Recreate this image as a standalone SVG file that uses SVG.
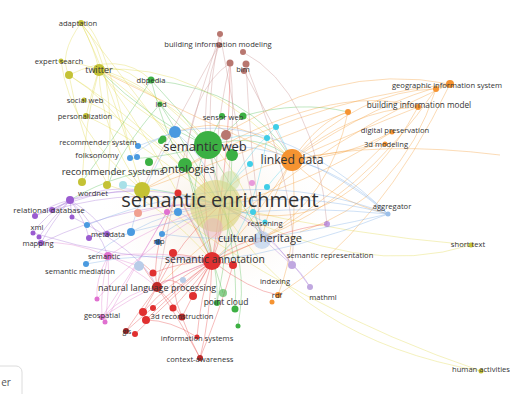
<svg xmlns="http://www.w3.org/2000/svg" width="510" height="394" viewBox="0 0 510 394">
<style>
text{font-family:"Open Sans","Liberation Sans",sans-serif;fill:#333;text-anchor:middle}
.s{font-size:7.6px}
.e path{fill:none;stroke-width:1;stroke-opacity:.38}
.y{stroke:#e2da55}.g{stroke:#5cc05c}.o{stroke:#f5a040}.b{stroke:#c89090}.r{stroke:#e85050}
.p{stroke:#e080d0}.v{stroke:#a878d8}.u{stroke:#80b0e8}.c{stroke:#50d0e8}
.ny{fill:#c4c235}.ng{fill:#3cb043}.no{fill:#f59331}.nb{fill:#b87770}.nr{fill:#e03030}
.np{fill:#e070d0}.nv{fill:#9a5cd0}.nu{fill:#4a9ae0}.nc{fill:#3fcde6}.nl{fill:#b8cce8}
</style>
<defs>
<radialGradient id="haze" cx="0.5" cy="0.5" r="0.5">
<stop offset="0" stop-color="#f6e8d8" stop-opacity=".9"/>
<stop offset="1" stop-color="#ffffff" stop-opacity="0"/>
</radialGradient>
</defs>
<rect width="510" height="394" fill="#fff"/>
<ellipse cx="215" cy="215" rx="120" ry="95" fill="url(#haze)"/>
<g class="e" id="connectors">
<path class="y" d="M81 23 Q95 50 99 70"/>
<path class="y" d="M81 23 Q110 80 142 190"/>
<path class="y" d="M81 23 Q140 100 220 205"/>
<path class="y" d="M81 23 Q58 55 69 75"/>
<path class="y" d="M81 23 Q118 60 108 185"/>
<path class="y" d="M81 23 Q100 20 130 150"/>
<path class="y" d="M61 61 Q85 64 99 70"/>
<path class="y" d="M69 75 Q140 120 220 205"/>
<path class="y" d="M99 70 Q160 110 220 205"/>
<path class="y" d="M99 70 Q150 80 207 146"/>
<path class="y" d="M99 70 Q200 60 292 160"/>
<path class="y" d="M99 70 Q100 130 142 190"/>
<path class="y" d="M84 100 Q150 130 220 205"/>
<path class="y" d="M86 116 Q140 140 220 205"/>
<path class="y" d="M69 75 Q80 140 108 185"/>
<path class="y" d="M99 70 Q85 120 82 182"/>
<path class="y" d="M86 116 Q95 80 99 70"/>
<path class="y" d="M69 75 Q120 50 151 80"/>
<path class="y" d="M99 70 Q130 60 160 104"/>
<path class="y" d="M61 61 Q70 130 142 190"/>
<path class="y" d="M99 70 Q120 100 175 132"/>
<path class="y" d="M69 75 Q110 100 138 146"/>
<path class="y" d="M99 70 Q230 120 262 238"/>
<path class="y" d="M220 205 Q360 280 471 245"/>
<path class="y" d="M220 205 Q350 235 471 245"/>
<path class="y" d="M220 205 Q300 340 481 371"/>
<path class="y" d="M142 190 Q300 310 481 371"/>
<path class="y" d="M99 70 Q160 150 212 261"/>
<path class="y" d="M142 190 Q180 190 220 205"/>
<path class="y" d="M108 185 Q160 200 212 261"/>
<path class="g" d="M151 80 Q180 110 207 146"/>
<path class="g" d="M160 104 Q180 130 207 146"/>
<path class="g" d="M151 80 Q170 150 186 166"/>
<path class="g" d="M222 116 Q215 130 207 146"/>
<path class="g" d="M243 116 Q230 130 207 146"/>
<path class="g" d="M207 146 Q150 120 99 70"/>
<path class="g" d="M151 80 Q120 130 82 182"/>
<path class="g" d="M160 104 Q200 170 220 205"/>
<path class="g" d="M207 146 Q260 130 292 160"/>
<path class="g" d="M207 146 Q240 250 235 309"/>
<path class="g" d="M186 166 Q220 260 217 303"/>
<path class="g" d="M243 116 Q300 100 348 112"/>
<path class="g" d="M151 80 Q250 90 292 160"/>
<path class="g" d="M207 146 Q150 160 130 158"/>
<path class="g" d="M160 104 Q120 150 108 185"/>
<path class="g" d="M238 326 Q250 260 220 205"/>
<path class="g" d="M223 293 Q200 220 186 166"/>
<path class="g" d="M207 146 Q180 200 212 261"/>
<path class="g" d="M186 166 Q120 170 70 200"/>
<path class="g" d="M207 146 Q240 200 262 238"/>
<path class="g" d="M232 155 Q230 240 217 303"/>
<path class="o" d="M292 160 Q380 100 450 84"/>
<path class="o" d="M292 160 Q360 90 436 89"/>
<path class="o" d="M292 160 Q350 110 418 107"/>
<path class="o" d="M292 160 Q320 120 348 112"/>
<path class="o" d="M292 160 Q350 150 385 144"/>
<path class="o" d="M292 160 Q340 160 392 132"/>
<path class="o" d="M207 146 Q330 60 450 84"/>
<path class="o" d="M186 166 Q330 80 418 107"/>
<path class="o" d="M142 190 Q300 100 450 84"/>
<path class="o" d="M348 112 Q330 200 262 238"/>
<path class="o" d="M450 84 Q380 230 278 295"/>
<path class="o" d="M436 89 Q360 200 262 238"/>
<path class="o" d="M418 107 Q340 250 220 205"/>
<path class="o" d="M292 160 Q300 240 278 295"/>
<path class="o" d="M292 160 Q230 170 220 205"/>
<path class="o" d="M385 144 Q300 230 212 261"/>
<path class="o" d="M348 112 Q250 150 142 190"/>
<path class="o" d="M436 89 Q400 200 300 232"/>
<path class="o" d="M292 160 Q240 110 175 132"/>
<path class="o" d="M292 160 Q380 140 500 155"/>
<path class="o" d="M292 160 Q330 200 388 214"/>
<path class="o" d="M450 84 Q300 150 157 287"/>
<path class="o" d="M292 160 Q200 120 99 70"/>
<path class="o" d="M292 160 Q250 230 212 261"/>
<path class="o" d="M292 160 Q270 200 262 238"/>
<path class="o" d="M392 132 Q300 190 220 205"/>
<path class="o" d="M418 107 Q360 130 292 160"/>
<path class="b" d="M220 34 Q200 120 220 205"/>
<path class="b" d="M219 45 Q200 100 207 146"/>
<path class="b" d="M230 63 Q210 150 220 205"/>
<path class="b" d="M246 64 Q250 150 262 238"/>
<path class="b" d="M244 71 Q270 120 292 160"/>
<path class="b" d="M243 52 Q315 90 327 224"/>
<path class="b" d="M219 45 Q160 150 142 190"/>
<path class="b" d="M230 63 Q240 150 212 261"/>
<path class="b" d="M220 34 Q250 200 262 238"/>
<path class="b" d="M246 64 Q300 200 292 265"/>
<path class="b" d="M220 34 Q180 150 157 287"/>
<path class="b" d="M230 63 Q190 90 186 166"/>
<path class="r" d="M212 261 Q190 255 173 254"/>
<path class="r" d="M212 261 L233 265"/>
<path class="r" d="M212 261 Q180 262 153 273"/>
<path class="r" d="M212 261 Q185 270 157 287"/>
<path class="r" d="M212 261 Q200 280 193 296"/>
<path class="r" d="M212 261 Q190 290 173 308"/>
<path class="r" d="M212 261 Q195 290 182 317"/>
<path class="r" d="M212 261 Q210 320 200 358"/>
<path class="r" d="M212 261 Q170 280 143 312"/>
<path class="r" d="M212 261 Q175 290 146 320"/>
<path class="r" d="M212 261 Q160 300 126 331"/>
<path class="r" d="M212 261 Q170 300 135 334"/>
<path class="r" d="M212 261 Q200 300 197 337"/>
<path class="r" d="M212 261 Q225 230 220 205"/>
<path class="r" d="M212 261 Q190 220 178 193"/>
<path class="r" d="M212 261 Q240 240 262 238"/>
<path class="r" d="M212 261 Q250 290 278 295"/>
<path class="r" d="M212 261 Q280 230 327 224"/>
<path class="r" d="M157 287 Q140 310 126 331"/>
<path class="r" d="M157 287 Q150 300 143 312"/>
<path class="r" d="M157 287 Q170 300 182 317"/>
<path class="r" d="M157 287 Q180 320 200 358"/>
<path class="r" d="M157 287 Q160 270 173 254"/>
<path class="r" d="M157 287 Q180 240 220 205"/>
<path class="r" d="M157 287 Q170 270 193 296"/>
<path class="r" d="M182 317 Q190 340 200 358"/>
<path class="r" d="M146 320 Q170 320 197 337"/>
<path class="r" d="M212 261 Q230 150 230 63"/>
<path class="r" d="M157 287 Q130 250 153 273"/>
<path class="r" d="M178 193 Q150 250 157 287"/>
<path class="r" d="M212 261 Q200 180 207 146"/>
<path class="r" d="M173 254 Q170 290 182 317"/>
<path class="r" d="M233 265 Q220 310 200 358"/>
<path class="p" d="M108 256 Q100 290 102 317"/>
<path class="p" d="M108 256 Q95 280 97 299"/>
<path class="p" d="M108 256 Q110 290 105 322"/>
<path class="p" d="M108 256 Q130 265 157 287"/>
<path class="p" d="M108 256 Q160 220 220 205"/>
<path class="p" d="M108 256 Q160 250 212 261"/>
<path class="p" d="M108 256 L139 266"/>
<path class="p" d="M108 256 Q70 240 41 243"/>
<path class="p" d="M102 317 Q130 290 157 287"/>
<path class="p" d="M102 317 Q160 280 212 261"/>
<path class="p" d="M97 299 Q150 240 220 205"/>
<path class="p" d="M138 213 Q180 200 220 205"/>
<path class="p" d="M105 322 Q150 240 178 193"/>
<path class="p" d="M167 212 Q140 260 102 317"/>
<path class="v" d="M70 200 L52 210"/>
<path class="v" d="M70 200 Q50 205 35 216"/>
<path class="v" d="M70 200 L72 217"/>
<path class="v" d="M70 200 Q45 215 33 233"/>
<path class="v" d="M70 200 Q50 220 39 237"/>
<path class="v" d="M70 200 Q85 220 89 238"/>
<path class="v" d="M70 200 Q50 225 41 243"/>
<path class="v" d="M70 200 Q150 180 220 205"/>
<path class="v" d="M70 200 Q105 185 142 190"/>
<path class="v" d="M70 200 Q100 230 108 256"/>
<path class="v" d="M70 200 Q95 215 107 234"/>
<path class="v" d="M35 216 Q90 190 142 190"/>
<path class="v" d="M52 210 Q140 185 220 205"/>
<path class="v" d="M41 243 Q130 200 220 205"/>
<path class="v" d="M310 287 Q270 230 220 205"/>
<path class="v" d="M292 265 Q260 220 220 205"/>
<path class="v" d="M292 265 L262 238"/>
<path class="v" d="M310 287 Q300 270 292 265"/>
<path class="v" d="M33 233 Q120 260 212 261"/>
<path class="v" d="M89 238 Q150 210 220 205"/>
<path class="v" d="M72 217 Q140 250 157 287"/>
<path class="u" d="M388 214 Q300 190 220 205"/>
<path class="u" d="M388 214 Q320 230 262 238"/>
<path class="u" d="M388 214 Q280 110 175 132"/>
<path class="u" d="M388 214 Q300 140 207 146"/>
<path class="u" d="M388 214 Q340 170 292 160"/>
<path class="u" d="M388 214 Q250 200 131 232"/>
<path class="u" d="M87 225 Q250 160 388 214"/>
<path class="u" d="M388 214 Q300 250 212 261"/>
<path class="u" d="M175 132 Q210 160 220 205"/>
<path class="u" d="M175 132 L138 146"/>
<path class="u" d="M175 132 Q150 140 130 158"/>
<path class="u" d="M131 232 Q170 210 220 205"/>
<path class="u" d="M86 264 Q110 240 131 232"/>
<path class="u" d="M86 264 Q150 250 212 261"/>
<path class="u" d="M162 234 Q190 215 220 205"/>
<path class="u" d="M262 238 Q200 240 162 234"/>
<path class="u" d="M175 132 Q140 190 131 232"/>
<path class="u" d="M178 212 Q200 220 212 261"/>
<path class="c" d="M276 127 Q240 160 220 205"/>
<path class="c" d="M267 138 Q240 130 207 146"/>
<path class="c" d="M250 164 Q230 180 220 205"/>
<path class="c" d="M267 187 Q280 170 292 160"/>
<path class="c" d="M253 212 Q260 225 262 238"/>
<path class="c" d="M265 222 Q240 210 220 205"/>
<path class="c" d="M123 185 Q170 190 220 205"/>
<path class="c" d="M276 127 Q285 145 292 160"/>
<path class="c" d="M267 138 Q250 240 212 261"/>
</g>
<g id="blobs">
<circle cx="216" cy="206" r="26" fill="#d9d47c" opacity=".62"/>
<circle cx="230" cy="181" r="10" fill="#c8e0a0" opacity=".5"/>
<circle cx="213" cy="228" r="10" fill="#e6b0c0" opacity=".45"/>
<circle cx="262" cy="240" r="9" fill="#a8c4ea" opacity=".55"/>
</g>
<g id="n-adaptation"><circle class="ny" cx="81" cy="23" r="3"/><text class="s" x="78" y="26">adaptation</text></g>
<g id="n-expert-search"><circle class="ny" cx="61" cy="61" r="2.5"/><circle class="ny" cx="69" cy="75" r="4"/><text class="s" x="59" y="64">expert search</text></g>
<g id="n-twitter"><circle class="ny" cx="99" cy="70" r="6"/><text x="99" y="73" font-size="9">twitter</text></g>
<g id="n-social-web"><circle class="ny" cx="84" cy="100" r="2.5"/><text class="s" x="85" y="103">social web</text></g>
<g id="n-personalization"><circle class="ny" cx="86" cy="116" r="3"/><text class="s" x="85" y="119">personalization</text></g>
<g id="n-dbpedia"><circle class="ng" cx="151" cy="80" r="3.5"/><text class="s" x="151" y="83">dbpedia</text></g>
<g id="n-lod"><circle class="ng" cx="160" cy="104" r="2.5"/><text class="s" x="161" y="107">lod</text></g>
<g id="n-bim-modeling"><circle class="nb" cx="220" cy="34" r="3"/><circle class="nb" cx="219" cy="45" r="3"/><text class="s" x="218" y="47">building information modeling</text></g>
<g id="n-bim"><circle class="nb" cx="243" cy="52" r="3"/><circle class="nb" cx="230" cy="63" r="3.5"/><circle class="nb" cx="246" cy="64" r="3.5"/><circle class="nb" cx="244" cy="71" r="3"/><text class="s" x="243" y="72">bim</text></g>
<g id="n-sensor-web"><circle class="ng" cx="222" cy="116" r="3"/><circle class="ng" cx="243" cy="116" r="3.5"/><text class="s" x="223" y="120">sensor web</text></g>
<g id="n-gis-system"><circle class="no" cx="450" cy="84" r="4"/><circle class="no" cx="436" cy="89" r="3"/><text class="s" x="447" y="88">geographic information system</text></g>
<g id="n-bim-model"><circle class="no" cx="418" cy="107" r="3"/><circle class="no" cx="348" cy="112" r="3"/><text x="419" y="108" font-size="8.2">building information model</text></g>
<g id="n-digital-preservation"><circle class="no" cx="392" cy="132" r="2.5"/><text class="s" x="395" y="133">digital preservation</text></g>
<g id="n-3d-modeling"><circle class="no" cx="385" cy="144" r="2.5"/><text class="s" x="386" y="147">3d modeling</text></g>
<g id="n-misc">
<circle class="nu" cx="175" cy="132" r="6"/>
<circle class="nu" cx="138" cy="146" r="3"/>
<circle class="nu" cx="130" cy="158" r="3"/>
<circle class="nu" cx="137" cy="157" r="3"/>
<circle class="ng" cx="163" cy="139" r="3.5"/>
<circle class="ng" cx="149" cy="162" r="4"/>
<circle class="ng" cx="185" cy="165" r="7"/>
<circle class="ng" cx="232" cy="155" r="6"/>
<circle class="ng" cx="161" cy="141" r="3"/>
<circle class="nb" cx="226" cy="135" r="5"/>
<circle class="nc" cx="276" cy="127" r="3"/>
<circle class="nc" cx="267" cy="138" r="3"/>
<circle class="nc" cx="250" cy="164" r="3"/>
<circle class="nc" cx="267" cy="187" r="3"/>
<circle class="nc" cx="253" cy="212" r="3"/>
<circle fill="#a8e0e8" cx="123" cy="185" r="4"/>
<circle class="np" cx="252" cy="183" r="3" opacity=".7"/>
<circle class="nr" cx="178" cy="193" r="3.5"/>
<circle class="nr" cx="173" cy="253" r="4"/>
<circle fill="#f0a090" cx="138" cy="213" r="4"/>
<circle class="np" cx="167" cy="212" r="3"/>
<circle class="nu" cx="178" cy="212" r="4"/>
<circle class="nv" cx="327" cy="224" r="3" opacity=".6"/>
<circle class="nl" cx="139" cy="266" r="5"/>
<circle class="nl" cx="183" cy="280" r="3"/>
<circle class="nv" cx="52" cy="210" r="3"/>
<circle class="nv" cx="35" cy="216" r="3"/>
<circle class="nv" cx="72" cy="217" r="2.5"/>
<circle class="nv" cx="33" cy="233" r="2.5"/>
<circle class="nv" cx="39" cy="237" r="2.5"/>
<circle class="nv" cx="89" cy="238" r="3"/>
<circle class="nu" cx="87" cy="225" r="3"/>
<circle class="nr" cx="233" cy="265" r="4"/>
<circle class="nr" cx="153" cy="273" r="3.5"/>
<circle class="nr" cx="193" cy="296" r="4"/>
<circle class="nr" cx="173" cy="308" r="3.5"/>
<circle class="nr" cx="143" cy="312" r="4"/>
<circle class="nr" cx="146" cy="320" r="4"/>
<circle class="nr" cx="153" cy="308" r="3"/>
<circle class="nr" cx="135" cy="334" r="3"/>
<circle class="np" cx="97" cy="299" r="2.5"/>
<circle class="np" cx="105" cy="322" r="2.5"/>
<circle class="ng" cx="223" cy="293" r="4" opacity=".6"/>
<circle class="ng" cx="238" cy="326" r="2.5"/>
<circle class="no" cx="272" cy="302" r="2.5"/>
</g>
<g id="n-recommender-system"><text class="s" x="98" y="145">recommender system</text></g>
<g id="n-folksonomy"><text x="97" y="158" font-size="8">folksonomy</text></g>
<g id="n-recommender-systems"><circle class="ny" cx="82" cy="182" r="4"/><circle class="ny" cx="107" cy="185" r="4"/><text x="113" y="175" font-size="9.6">recommender systems</text></g>
<g id="n-wordnet"><circle class="ny" cx="142" cy="190" r="8"/><text class="s" x="93" y="196">wordnet</text></g>
<g id="n-semantic-web"><circle class="ng" cx="208" cy="145" r="14"/><text x="205" y="151" font-size="13">semantic web</text></g>
<g id="n-ontologies"><text x="188" y="173" font-size="11">ontologies</text></g>
<g id="n-linked-data"><circle class="no" cx="292" cy="160" r="11"/><text x="292" y="164" font-size="12.2">linked data</text></g>
<g id="n-semantic-enrichment"><text x="220" y="207" font-size="20">semantic enrichment</text></g>
<g id="n-relational-database"><circle class="nv" cx="70" cy="200" r="4"/><text x="49" y="213" font-size="8">relational database</text></g>
<g id="n-xml"><text class="s" x="37" y="230">xml</text></g>
<g id="n-mapping"><circle class="nv" cx="41" cy="243" r="3"/><text class="s" x="38" y="246">mapping</text></g>
<g id="n-metadata"><circle class="nv" cx="107" cy="234" r="3"/><circle class="nu" cx="131" cy="232" r="4"/><text class="s" x="108" y="237">metadata</text></g>
<g id="n-nlp"><circle class="nu" cx="162" cy="234" r="3"/><circle fill="#2b6ab0" cx="158" cy="242" r="3"/><text class="s" x="159" y="244">nlp</text></g>
<g id="n-aggregator"><circle fill="#9cc0ea" cx="388" cy="214" r="2.5"/><text class="s" x="392" y="209">aggregator</text></g>
<g id="n-reasoning"><circle class="nc" cx="265" cy="222" r="2.5"/><text class="s" x="265" y="226">reasoning</text></g>
<g id="n-cultural-heritage"><text x="260" y="242" font-size="11">cultural heritage</text></g>
<g id="n-short-text"><circle class="ny" cx="471" cy="245" r="2.5"/><text class="s" x="468" y="247">short text</text></g>
<g id="n-semantic"><circle class="np" cx="108" cy="256" r="4"/><text class="s" x="104" y="259">semantic</text></g>
<g id="n-semantic-annotation"><circle class="nr" cx="212" cy="261" r="9"/><text x="215" y="263" font-size="10.4">semantic annotation</text></g>
<g id="n-semantic-representation"><circle fill="#c0a8e0" cx="292" cy="265" r="4"/><text class="s" x="330" y="258">semantic representation</text></g>
<g id="n-semantic-mediation"><circle class="nu" cx="86" cy="264" r="3"/><text class="s" x="80" y="274">semantic mediation</text></g>
<g id="n-nlp-full"><circle fill="#c02828" cx="157" cy="287" r="5"/><text x="157" y="291" font-size="9">natural language processing</text></g>
<g id="n-indexing"><text class="s" x="275" y="284">indexing</text></g>
<g id="n-point-cloud"><circle class="ng" cx="217" cy="303" r="3"/><circle class="ng" cx="235" cy="309" r="3.5"/><text x="226" y="305" font-size="8.5">point cloud</text></g>
<g id="n-rdf"><circle class="no" cx="278" cy="295" r="3"/><text class="s" x="277" y="298">rdf</text></g>
<g id="n-mathml"><circle fill="#c0a8e0" cx="310" cy="287" r="3"/><text class="s" x="323" y="300">mathml</text></g>
<g id="n-geospatial"><circle class="np" cx="102" cy="317" r="3"/><text class="s" x="102" y="318">geospatial</text></g>
<g id="n-3d-reconstruction"><circle fill="#b82828" cx="182" cy="317" r="3.5"/><text class="s" x="182" y="319">3d reconstruction</text></g>
<g id="n-gis"><circle fill="#a02020" cx="126" cy="331" r="3"/><text x="127" y="334" font-size="7">gis</text></g>
<g id="n-information-systems"><circle class="nr" cx="197" cy="337" r="2.5"/><text class="s" x="197" y="341">information systems</text></g>
<g id="n-context-awareness"><circle fill="#b82828" cx="200" cy="358" r="3"/><text class="s" x="200" y="362">context-awareness</text></g>
<g id="n-human-activities"><circle class="ny" cx="481" cy="371" r="2.5"/><text class="s" x="481" y="372">human activities</text></g>
<g id="logo"><rect x="-8" y="366" width="30" height="40" rx="6" fill="#fff" stroke="#dcdcdc"/><text x="6" y="386" font-size="10" style="fill:#555">er</text></g>
</svg>
